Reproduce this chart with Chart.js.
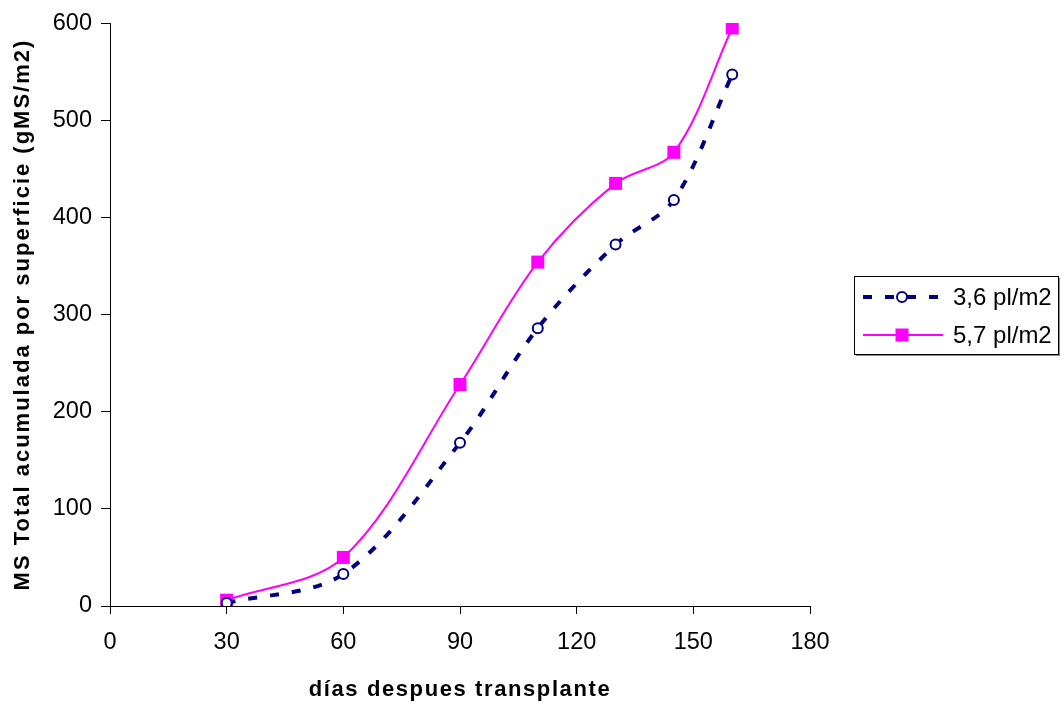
<!DOCTYPE html>
<html>
<head>
<meta charset="utf-8">
<script src="https://cdn.jsdelivr.net/npm/chart.js@4.4.1/dist/chart.umd.min.js"></script>
<style>
  html, body { margin: 0; padding: 0; background: #ffffff; }
  #wrap { width: 1062px; height: 704px; position: relative; }
</style>
</head>
<body>
<div id="wrap"><canvas id="c" width="1062" height="704"></canvas></div>
<script>
// Days after transplant at which dry matter was sampled
const dias = [30, 60, 90, 110, 130, 145, 160];
// Accumulated total dry matter per surface (gMS/m2) for each planting density
const densidadBaja = [3, 33, 168, 286, 372, 418, 547];   // 3,6 pl/m2
const densidadAlta = [6, 50, 228, 354, 435, 467, 595];   // 5,7 pl/m2
const nombresSeries = ['3,6 pl/m2', '5,7 pl/m2'];
const ticksX = [0, 30, 60, 90, 120, 150, 180];
const ticksY = [0, 100, 200, 300, 400, 500, 600];

const FONT = 'Liberation Sans, Arial, Helvetica, sans-serif';
const NAVY = '#000080';
const MAGENTA = '#FF00FF';

const toPoints = (xs, ys) => xs.map((x, i) => ({ x: x, y: ys[i] }));

// Axis titles are set with a little extra tracking
const drawTitleOrig = Chart.Scale.prototype.drawTitle;
Chart.Scale.prototype.drawTitle = function () {
  this.ctx.save();
  this.ctx.letterSpacing = this.isHorizontal() ? '1.6px' : '2px';
  drawTitleOrig.apply(this, arguments);
  this.ctx.restore();
};

// Boxed legend, vertically centred on the plot area, to its right
const boxedLegend = {
  id: 'boxedLegend',
  afterDraw(chart) {
    const ctx = chart.ctx;
    const w = 204, h = 78;
    const x0 = 854;
    const y0 = Math.round((chart.chartArea.top + chart.chartArea.bottom) / 2 - h / 2);
    ctx.save();
    ctx.fillStyle = '#8a8a8a';
    ctx.fillRect(x0 + 2, y0 + h, w, 2);
    ctx.fillRect(x0 + w, y0 + 2, 2, h);
    ctx.fillStyle = '#ffffff';
    ctx.fillRect(x0, y0, w, h);
    ctx.strokeStyle = '#000000';
    ctx.lineWidth = 1;
    ctx.strokeRect(x0 + 0.5, y0 + 0.5, w, h);

    const rows = [y0 + 21, y0 + 59];
    const mx = 902;
    chart.data.datasets.forEach((ds, i) => {
      const yy = rows[i];
      ctx.save();
      ctx.strokeStyle = ds.borderColor;
      ctx.lineWidth = ds.borderWidth;
      ctx.setLineDash(ds.borderDash || []);
      ctx.beginPath();
      ctx.moveTo(863, yy);
      ctx.lineTo(943, yy);
      ctx.stroke();
      ctx.restore();
      ctx.save();
      ctx.setLineDash([]);
      if (ds.pointStyle === 'rect') {
        const s = Math.round(Math.SQRT2 * ds.pointRadius);
        ctx.fillStyle = ds.pointBackgroundColor;
        ctx.fillRect(mx - s / 2, yy - s / 2, s, s);
      } else {
        ctx.fillStyle = ds.pointBackgroundColor;
        ctx.strokeStyle = ds.pointBorderColor;
        ctx.lineWidth = ds.pointBorderWidth;
        ctx.beginPath();
        ctx.arc(mx, yy, ds.pointRadius, 0, Math.PI * 2);
        ctx.fill();
        ctx.stroke();
      }
      ctx.restore();
      ctx.fillStyle = '#000000';
      ctx.font = '24px ' + FONT;
      ctx.textBaseline = 'middle';
      ctx.textAlign = 'left';
      ctx.fillText(ds.label, 953, yy + 1);
    });
    ctx.restore();
  }
};

new Chart(document.getElementById('c'), {
  type: 'line',
  data: {
    datasets: [
      {
        label: nombresSeries[0],
        data: toPoints(dias, densidadBaja),
        borderColor: NAVY,
        borderWidth: 4,
        borderDash: [9, 13],
        tension: 0.33,
        pointStyle: 'circle',
        pointRadius: 5,
        pointBorderWidth: 2,
        pointBackgroundColor: '#ffffff',
        pointBorderColor: NAVY,
        fill: false
      },
      {
        label: nombresSeries[1],
        data: toPoints(dias, densidadAlta),
        borderColor: MAGENTA,
        borderWidth: 2,
        tension: 0.33,
        pointStyle: 'rect',
        pointRadius: 9.2,
        pointBorderWidth: 0,
        pointBackgroundColor: MAGENTA,
        pointBorderColor: MAGENTA,
        fill: false
      }
    ]
  },
  options: {
    responsive: false,
    animation: false,
    layout: { padding: { left: 0, right: 252, top: 21, bottom: 0 } },
    plugins: {
      legend: { display: false },
      tooltip: { enabled: false }
    },
    scales: {
      x: {
        type: 'linear',
        min: 0,
        max: 180,
        afterBuildTicks(scale) { scale.ticks = ticksX.map(v => ({ value: v })); },
        afterFit(scale) { scale.height = 98; },
        grid: {
          drawOnChartArea: false,
          drawTicks: true,
          tickLength: 8,
          color: '#000000'
        },
        border: { display: true, color: '#000000', width: 1 },
        ticks: {
          color: '#000000',
          font: { family: FONT, size: 23.5 },
          padding: 14
        },
        title: {
          display: true,
          text: 'días despues transplante',
          color: '#000000',
          font: { family: FONT, size: 22, weight: 'bold' },
          padding: { top: 0, bottom: 1 }
        }
      },
      y: {
        type: 'linear',
        min: 0,
        max: 600,
        afterBuildTicks(scale) { scale.ticks = ticksY.map(v => ({ value: v })); },
        afterFit(scale) { scale.width = 110; },
        grid: {
          drawOnChartArea: false,
          drawTicks: true,
          tickLength: 9,
          color: '#000000'
        },
        border: { display: true, color: '#000000', width: 1 },
        ticks: {
          color: '#000000',
          font: { family: FONT, size: 23.5 },
          padding: 9
        },
        title: {
          display: true,
          text: 'MS Total acumulada por superficie (gMS/m2)',
          color: '#000000',
          font: { family: FONT, size: 22, weight: 'bold' },
          padding: { top: 10, bottom: 0 }
        }
      }
    }
  },
  plugins: [boxedLegend]
});
</script>
</body>
</html>
